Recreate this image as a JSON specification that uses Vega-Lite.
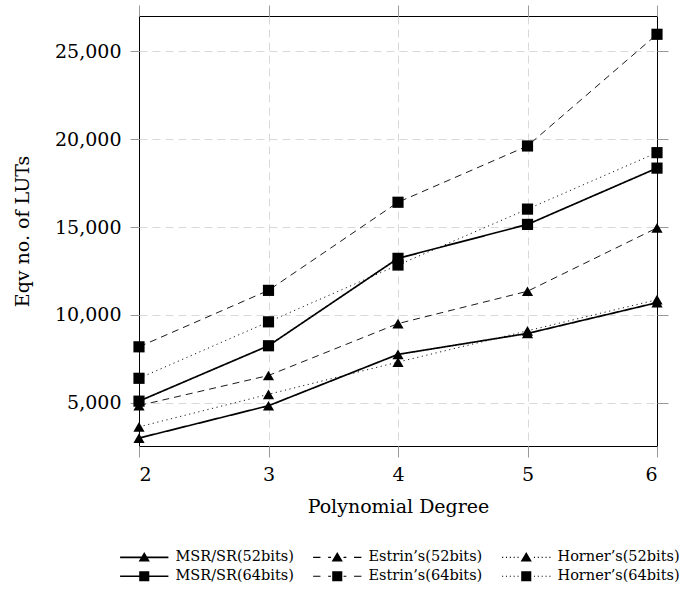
{
  "$schema": "https://vega.github.io/schema/vega-lite/v6.json",
  "width": 518,
  "height": 430,
  "autosize": {"type": "none"},
  "padding": {"left": 139, "top": 16, "right": 29, "bottom": 143},
  "background": "white",
  "config": {
    "view": {"stroke": "black", "strokeWidth": 1}
  },
  "datasets": {
    "pts": [
      {"degree": 2, "method": "MSR/SR", "bits": "52bits", "series": "MSR/SR(52bits)", "luts": 3000},
      {"degree": 3, "method": "MSR/SR", "bits": "52bits", "series": "MSR/SR(52bits)", "luts": 4840},
      {"degree": 4, "method": "MSR/SR", "bits": "52bits", "series": "MSR/SR(52bits)", "luts": 7760},
      {"degree": 5, "method": "MSR/SR", "bits": "52bits", "series": "MSR/SR(52bits)", "luts": 8950},
      {"degree": 6, "method": "MSR/SR", "bits": "52bits", "series": "MSR/SR(52bits)", "luts": 10700},
      {"degree": 2, "method": "Estrin", "bits": "52bits", "series": "Estrin’s(52bits)", "luts": 4850},
      {"degree": 3, "method": "Estrin", "bits": "52bits", "series": "Estrin’s(52bits)", "luts": 6560},
      {"degree": 4, "method": "Estrin", "bits": "52bits", "series": "Estrin’s(52bits)", "luts": 9510},
      {"degree": 5, "method": "Estrin", "bits": "52bits", "series": "Estrin’s(52bits)", "luts": 11350},
      {"degree": 6, "method": "Estrin", "bits": "52bits", "series": "Estrin’s(52bits)", "luts": 14950},
      {"degree": 2, "method": "Horner", "bits": "52bits", "series": "Horner’s(52bits)", "luts": 3640},
      {"degree": 3, "method": "Horner", "bits": "52bits", "series": "Horner’s(52bits)", "luts": 5490},
      {"degree": 4, "method": "Horner", "bits": "52bits", "series": "Horner’s(52bits)", "luts": 7320},
      {"degree": 5, "method": "Horner", "bits": "52bits", "series": "Horner’s(52bits)", "luts": 9100},
      {"degree": 6, "method": "Horner", "bits": "52bits", "series": "Horner’s(52bits)", "luts": 10870},
      {"degree": 2, "method": "MSR/SR", "bits": "64bits", "series": "MSR/SR(64bits)", "luts": 5100},
      {"degree": 3, "method": "MSR/SR", "bits": "64bits", "series": "MSR/SR(64bits)", "luts": 8250},
      {"degree": 4, "method": "MSR/SR", "bits": "64bits", "series": "MSR/SR(64bits)", "luts": 13220},
      {"degree": 5, "method": "MSR/SR", "bits": "64bits", "series": "MSR/SR(64bits)", "luts": 15150},
      {"degree": 6, "method": "MSR/SR", "bits": "64bits", "series": "MSR/SR(64bits)", "luts": 18350},
      {"degree": 2, "method": "Estrin", "bits": "64bits", "series": "Estrin’s(64bits)", "luts": 8190},
      {"degree": 3, "method": "Estrin", "bits": "64bits", "series": "Estrin’s(64bits)", "luts": 11400},
      {"degree": 4, "method": "Estrin", "bits": "64bits", "series": "Estrin’s(64bits)", "luts": 16410},
      {"degree": 5, "method": "Estrin", "bits": "64bits", "series": "Estrin’s(64bits)", "luts": 19610},
      {"degree": 6, "method": "Estrin", "bits": "64bits", "series": "Estrin’s(64bits)", "luts": 25960},
      {"degree": 2, "method": "Horner", "bits": "64bits", "series": "Horner’s(64bits)", "luts": 6400},
      {"degree": 3, "method": "Horner", "bits": "64bits", "series": "Horner’s(64bits)", "luts": 9610},
      {"degree": 4, "method": "Horner", "bits": "64bits", "series": "Horner’s(64bits)", "luts": 12840},
      {"degree": 5, "method": "Horner", "bits": "64bits", "series": "Horner’s(64bits)", "luts": 16020},
      {"degree": 6, "method": "Horner", "bits": "64bits", "series": "Horner’s(64bits)", "luts": 19230}
    ]
  },
  "data": {"name": "pts"},
  "resolve": {"scale": {"shape": "independent"}, "legend": {"shape": "independent"}},
  "layer": [
    {
      "transform": [{"filter": "false"}],
      "mark": {"type": "point", "filled": true, "color": "black", "opacity": 1},
      "encoding": {
        "x": {
          "field": "degree", "type": "quantitative",
          "axis": {"orient": "bottom", "values": [3, 4, 5], "grid": true, "gridDash": [8, 5], "gridColor": "#d9d9d9", "ticks": false, "labels": false, "domain": false, "title": null}
        },
        "y": {
          "field": "luts", "type": "quantitative",
          "axis": {"orient": "left", "values": [5000, 10000, 15000, 20000, 25000], "grid": true, "gridDash": [8, 5], "gridColor": "#d9d9d9", "ticks": false, "labels": false, "domain": false, "title": null}
        },
        "shape": {
          "field": "series", "type": "nominal",
          "scale": {
            "domain": ["MSR/SR(52bits)", "Estrin’s(52bits)", "Horner’s(52bits)", "MSR/SR(64bits)", "Estrin’s(64bits)", "Horner’s(64bits)"],
            "range": [
              "M-3.45,-0.12H3.45V0.12H-3.45ZM0,-0.78L0.8,0.6L-0.8,0.6Z",
              "M-3.45,-0.08H-2.4V0.08H-3.45ZM-1.3,-0.08H-0.9V0.08H-1.3ZM0,-0.78L0.8,0.6L-0.8,0.6ZM0.9,-0.08H1.3V0.08H0.9ZM2.4,-0.08H3.45V0.08H2.4Z",
              "M-3.45,-0.08H-3.3V0.08H-3.45ZM-2.9,-0.08H-2.75V0.08H-2.9ZM-2.35,-0.08H-2.2V0.08H-2.35ZM-1.8,-0.08H-1.65V0.08H-1.8ZM-1.25,-0.08H-1.1V0.08H-1.25ZM0,-0.78L0.8,0.6L-0.8,0.6ZM1.1,-0.08H1.25V0.08H1.1ZM1.65,-0.08H1.8V0.08H1.65ZM2.2,-0.08H2.35V0.08H2.2ZM2.75,-0.08H2.9V0.08H2.75ZM3.3,-0.08H3.45V0.08H3.3Z",
              "M-3.45,-0.12H3.45V0.12H-3.45ZM-0.72,-0.72H0.72V0.72H-0.72Z",
              "M-3.45,-0.08H-2.4V0.08H-3.45ZM-1.3,-0.08H-0.9V0.08H-1.3ZM-0.72,-0.72H0.72V0.72H-0.72ZM0.9,-0.08H1.3V0.08H0.9ZM2.4,-0.08H3.45V0.08H2.4Z",
              "M-3.45,-0.08H-3.3V0.08H-3.45ZM-2.9,-0.08H-2.75V0.08H-2.9ZM-2.35,-0.08H-2.2V0.08H-2.35ZM-1.8,-0.08H-1.65V0.08H-1.8ZM-1.25,-0.08H-1.1V0.08H-1.25ZM-0.72,-0.72H0.72V0.72H-0.72ZM1.1,-0.08H1.25V0.08H1.1ZM1.65,-0.08H1.8V0.08H1.65ZM2.2,-0.08H2.35V0.08H2.2ZM2.75,-0.08H2.9V0.08H2.75ZM3.3,-0.08H3.45V0.08H3.3Z"
            ]
          },
          "legend": {
            "title": null,
            "orient": "none",
            "legendX": -2,
            "legendY": 534,
            "columns": 3,
            "direction": "horizontal",
            "padding": 0,
            "symbolSize": 196,
            "symbolFillColor": "black",
            "symbolStrokeWidth": 0,
            "symbolOpacity": 1,
            "labelFont": "DejaVu Serif",
            "labelFontSize": 14.5,
            "labelColor": "black",
            "labelOffset": 24,
            "columnPadding": 19,
            "rowPadding": 4,
            "labelLimit": 300
          }
        }
      }
    },
    {
      "mark": {"type": "line", "color": "black"},
      "encoding": {
        "x": {
          "field": "degree", "type": "quantitative",
          "scale": {"domain": [2, 6], "nice": false, "zero": false},
          "axis": {"orient": "bottom", "values": [2, 3, 4, 5, 6], "format": "d", "grid": false, "domain": false, "tickColor": "#999", "tickSize": 11, "labelPadding": 8, "labelFont": "DejaVu Serif", "labelFontSize": 19, "labelColor": "black", "titleFont": "DejaVu Serif", "titleFontSize": 19, "titleFontWeight": "normal", "titleColor": "black", "titlePadding": 13, "title": "Polynomial Degree"}
        },
        "y": {
          "field": "luts", "type": "quantitative",
          "scale": {"domain": [2550, 27000], "nice": false, "zero": false},
          "axis": {"orient": "left", "values": [5000, 10000, 15000, 20000, 25000], "format": ",d", "grid": false, "domain": false, "tickColor": "#999", "tickSize": 9, "labelPadding": 9, "labelFont": "DejaVu Serif", "labelFontSize": 19, "labelColor": "black", "titleFont": "DejaVu Serif", "titleFontSize": 19, "titleFontWeight": "normal", "titleColor": "black", "titlePadding": 22, "title": "Eqv no. of LUTs"}
        },
        "detail": {"field": "series", "type": "nominal"},
        "strokeDash": {
          "field": "method", "type": "nominal",
          "scale": {"domain": ["MSR/SR", "Estrin", "Horner"], "range": [[1, 0], [7, 5], [1.2, 3.5]]},
          "legend": null
        },
        "strokeWidth": {"condition": {"test": "datum.method === 'MSR/SR'", "value": 1.7}, "value": 0.9}
      }
    },
    {
      "mark": {"type": "point", "filled": true, "color": "black", "opacity": 1, "size": 125},
      "encoding": {
        "x": {
          "field": "degree", "type": "quantitative",
          "axis": {"orient": "top", "values": [2, 3, 4, 5, 6], "labels": false, "grid": false, "domain": false, "tickColor": "#999", "tickSize": 11, "title": null}
        },
        "y": {
          "field": "luts", "type": "quantitative",
          "axis": {"orient": "right", "values": [5000, 10000, 15000, 20000, 25000], "labels": false, "grid": false, "domain": false, "tickColor": "#999", "tickSize": 11, "title": null}
        },
        "shape": {
          "field": "bits", "type": "nominal",
          "scale": {"domain": ["52bits", "64bits"], "range": ["triangle-up", "square"]},
          "legend": null
        }
      }
    }
  ]
}
